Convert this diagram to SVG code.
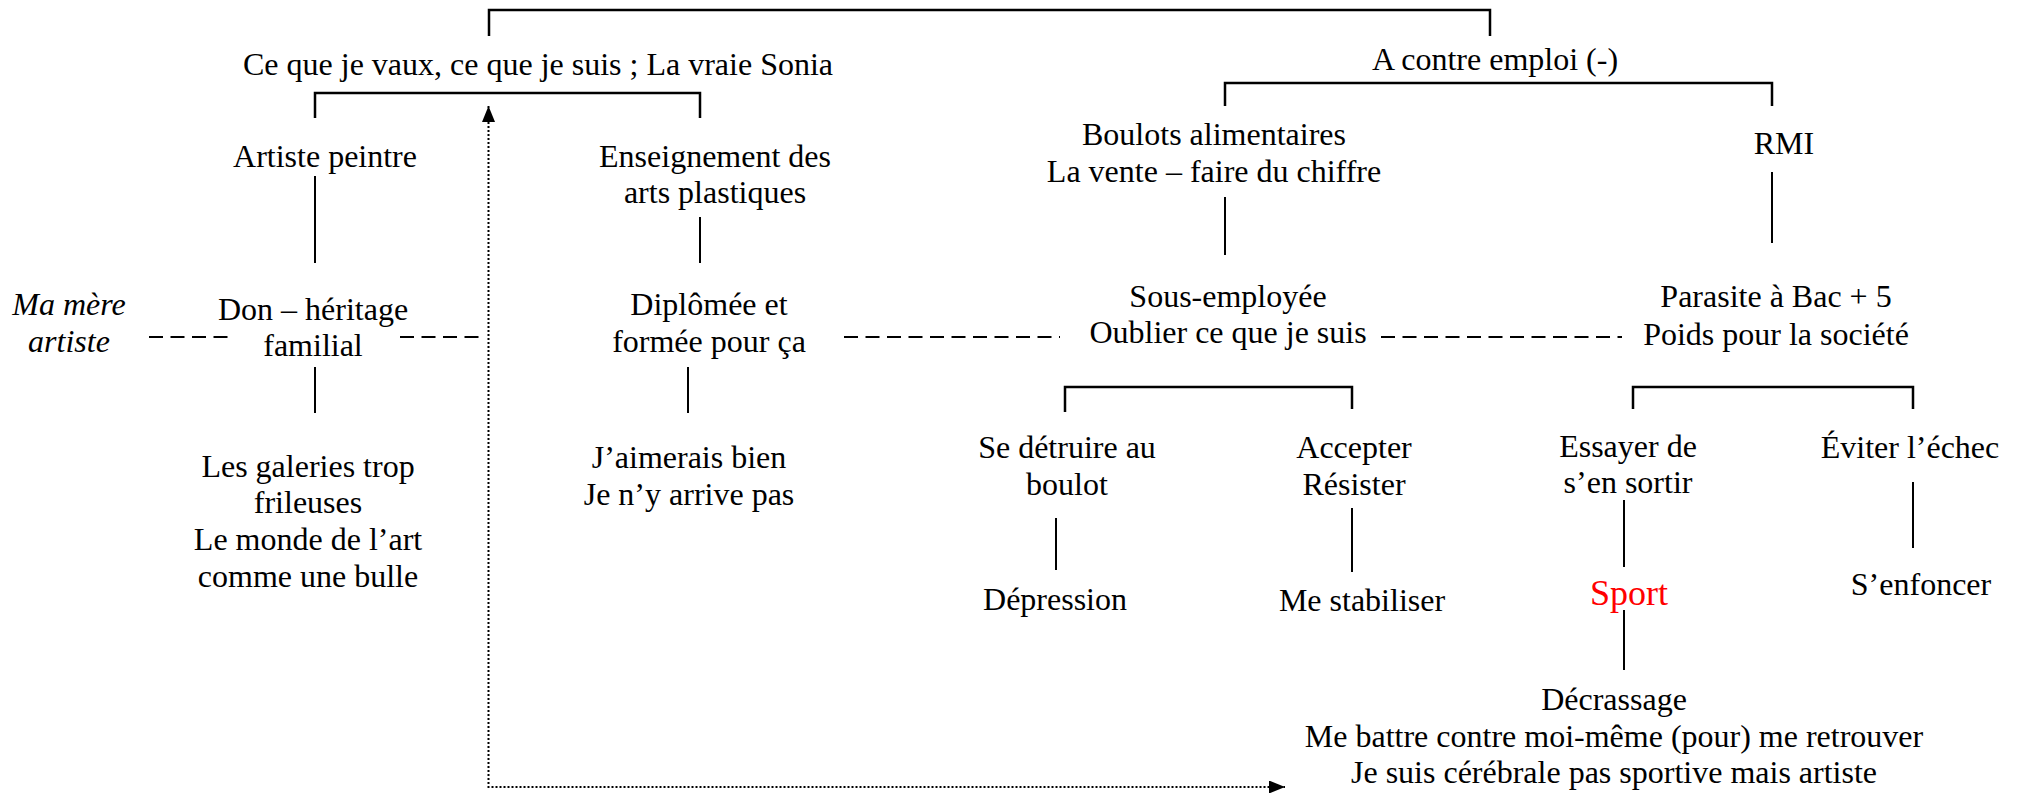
<svg xmlns="http://www.w3.org/2000/svg" width="2023" height="793" viewBox="0 0 2023 793">
<style>
text{font-family:"Liberation Serif","Times New Roman",serif;font-size:32px;fill:#000;text-anchor:middle}
.it{font-style:italic}
.red{fill:#ff0000;font-size:36px}
.ln{fill:none;stroke:#000;stroke-width:2}
.br{fill:none;stroke:#000;stroke-width:2.5}
.dash{fill:none;stroke:#000;stroke-width:2;stroke-dasharray:14 7.5}
.dot{fill:none;stroke:#000;stroke-width:2;stroke-dasharray:2 2}
</style>
<defs>
<marker id="arr" viewBox="0 0 10 10" refX="10" refY="5" markerUnits="userSpaceOnUse" markerWidth="16" markerHeight="13" orient="auto-start-reverse" preserveAspectRatio="none">
<path d="M0,0 L10,5 L0,10 z" fill="#000"/>
</marker>
</defs>
<rect width="2023" height="793" fill="#fff"/>
<g id="connectors">
<path class="br" d="M489,36 V10 H1490 V36"/>
<path class="br" d="M315,118 V93 H700 V118"/>
<path class="br" d="M1225,106 V83 H1772 V106"/>
<path class="ln" d="M315,176 V263"/>
<path class="ln" d="M700,217 V263"/>
<path class="ln" d="M1225,197 V255"/>
<path class="ln" d="M1772,172 V243"/>
<path class="ln" d="M315,367 V413"/>
<path class="ln" d="M688,367 V413"/>
<path class="br" d="M1065,412 V387 H1352 V409"/>
<path class="br" d="M1633,409 V387 H1913 V409"/>
<path class="ln" d="M1056,518 V570"/>
<path class="ln" d="M1352,508 V572"/>
<path class="ln" d="M1624,500 V567"/>
<path class="ln" d="M1624,610 V670"/>
<path class="ln" d="M1913,482 V548"/>
<path class="dash" d="M149,337 H229"/>
<path class="dash" d="M400,337 H481"/>
<path class="dash" d="M844,337 H1060"/>
<path class="dash" d="M1381,337 H1622"/>
<path class="dot" d="M488.5,106 V787 H1285" marker-start="url(#arr)" marker-end="url(#arr)"/>
</g>
<g id="n_vraie"><text x="538" y="75">Ce que je vaux, ce que je suis ; La vraie Sonia</text></g>
<g id="n_contre"><text x="1495" y="70">A contre emploi (-)</text></g>
<g id="n_artiste"><text x="325" y="167">Artiste peintre</text></g>
<g id="n_enseign"><text x="715" y="167">Enseignement des</text><text x="715" y="203">arts plastiques</text></g>
<g id="n_boulots"><text x="1214" y="145">Boulots alimentaires</text><text x="1214" y="182">La vente – faire du chiffre</text></g>
<g id="n_rmi"><text x="1784" y="154">RMI</text></g>
<g id="n_mere"><text class="it" x="69" y="315">Ma mère</text><text class="it" x="69" y="352">artiste</text></g>
<g id="n_don"><text x="313" y="320">Don – héritage</text><text x="313" y="356">familial</text></g>
<g id="n_diplome"><text x="709" y="315">Diplômée et</text><text x="709" y="352">formée pour ça</text></g>
<g id="n_sous"><text x="1228" y="307">Sous-employée</text><text x="1228" y="343">Oublier ce que je suis</text></g>
<g id="n_parasite"><text x="1776" y="307">Parasite à Bac + 5</text><text x="1776" y="345">Poids pour la société</text></g>
<g id="n_galeries"><text x="308" y="477">Les galeries trop</text><text x="308" y="513">frileuses</text><text x="308" y="550">Le monde de l’art</text><text x="308" y="587">comme une bulle</text></g>
<g id="n_aimerais"><text x="689" y="468">J’aimerais bien</text><text x="689" y="505">Je n’y arrive pas</text></g>
<g id="n_detruire"><text x="1067" y="458">Se détruire au</text><text x="1067" y="495">boulot</text></g>
<g id="n_accepter"><text x="1354" y="458">Accepter</text><text x="1354" y="495">Résister</text></g>
<g id="n_essayer"><text x="1628" y="457">Essayer de</text><text x="1628" y="493">s’en sortir</text></g>
<g id="n_eviter"><text x="1910" y="458">Éviter l’échec</text></g>
<g id="n_depression"><text x="1055" y="610">Dépression</text></g>
<g id="n_stabiliser"><text x="1362" y="611">Me stabiliser</text></g>
<g id="n_sport"><text class="red" x="1629" y="605">Sport</text></g>
<g id="n_enfoncer"><text x="1921" y="595">S’enfoncer</text></g>
<g id="n_decrassage"><text x="1614" y="710">Décrassage</text><text x="1614" y="747">Me battre contre moi-même (pour) me retrouver</text><text x="1614" y="783">Je suis cérébrale pas sportive mais artiste</text></g>
</svg>
